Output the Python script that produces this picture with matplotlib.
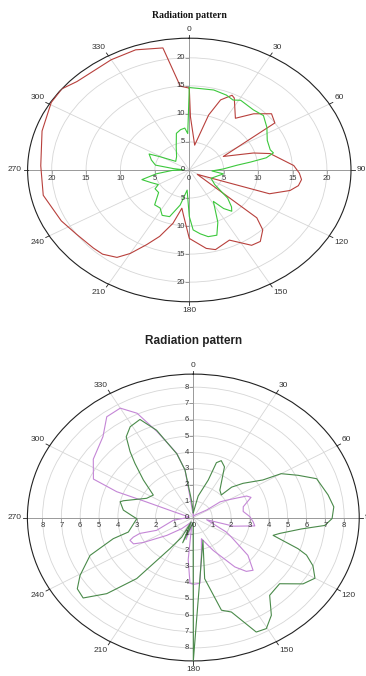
import matplotlib

matplotlib.use("Agg")
import matplotlib.pyplot as plt
import numpy as np

# ---- top panel: radiation pattern, two series (deg, value) ----
top_red_theta = [0, 1, 10, 16, 20, 25, 27, 36, 43, 50, 56, 64, 72, 76, 87, 92, 96, 100,
                 104, 110, 124, 131, 135, 141, 146, 155, 165, 170, 180, 186, 189, 194, 200,
                 205, 210, 214, 220, 225, 235, 244, 258, 272, 288, 301, 308, 314, 330, 340,
                 350, 355, 360]
top_red_r = [14.6, 9.5, 4.5, 10.2, 13.3, 14.7, 14.4, 11.4, 13.7, 15.6, 15.0, 5.5, 9.8, 12.1,
             15.2, 16.0, 16.4, 16.1, 15.1, 12.4, 1.4, 13.0, 15.1, 16.4, 16.2, 13.8, 14.7, 14.2,
             12.2, 8.1, 6.9, 9.8, 12.6, 14.7, 17.2, 18.8, 19.6, 19.7, 20.0, 20.7, 21.7, 21.6,
             22.5, 23.4, 23.5, 22.7, 22.7, 22.8, 22.1, 15.0, 14.6]

top_grn_theta = [0, 6, 14, 22, 27, 31, 41, 48, 56, 65, 73, 76, 79, 81, 83, 88, 93, 98, 105,
                 115, 125, 132, 137, 140, 144, 148, 152, 156, 161, 167, 172, 177, 180, 185,
                 192, 199, 206, 212, 219, 228, 236, 240, 248, 256, 262, 268, 272, 276, 280,
                 288, 296, 299, 308, 322, 335, 344, 350, 355, 358, 360]
top_grn_r = [14.7, 14.6, 14.7, 14.4, 14.0, 14.5, 14.2, 14.5, 13.6, 12.5, 12.3, 12.6, 11.4, 9.0,
             7.0, 4.9, 3.3, 5.0, 4.2, 3.5, 4.5, 7.5, 9.0, 9.6, 8.5, 6.6, 8.0, 10.2, 12.3, 12.2,
             11.5, 10.7, 8.3, 3.6, 6.4, 8.8, 9.0, 8.0, 8.0, 6.0, 6.0, 5.2, 6.0, 7.1, 4.8, 2.5,
             0.8, 2.3, 5.0, 5.8, 6.5, 4.9, 2.5, 3.0, 4.5, 6.8, 7.3, 7.5, 6.5, 14.7]

# ---- bottom panel ----
bot_grn_theta = [0, 11, 19, 20, 23, 28, 40, 47, 47.5, 51.5, 58, 60, 65, 70, 79, 85, 90.5, 94,
                 97, 102, 104.5, 109, 111, 115, 120, 125, 131.6, 139.7, 145.4, 150.4, 154.6,
                 160.8, 165.3, 170.9, 160, 180, 182, 200, 203, 207, 213, 218.7, 224.5, 229.8,
                 234.6, 239.4, 247, 253, 255.5, 268.6, 271, 277, 284, 285.5, 295.5, 303, 311,
                 317, 320.3, 324.3, 329, 334.8, 340, 347.4, 351.4, 355, 360]
bot_grn_r = [0.3, 1.34, 2.43, 3.58, 3.79, 3.52, 2.19, 2.03, 2.76, 3.37, 4.35, 5.38, 6.13, 6.96,
             7.28, 7.48, 7.36, 6.99, 5.77, 4.69, 4.37, 5.87, 6.43, 7.0, 7.45, 7.1, 6.12, 6.26,
             7.29, 7.84, 7.78, 6.14, 5.88, 3.8, 1.49, 8.8, 0.3, 1.65, 0.3, 1.35, 2.28, 4.8,
             6.55, 7.65, 7.55, 6.98, 5.95, 4.44, 3.56, 3.0, 3.18, 3.74, 4.0, 3.85, 2.74, 2.53,
             3.51, 4.54, 5.25, 6.1, 6.5, 6.65, 5.7, 4.0, 2.95, 1.0, 0.3]

bot_mag_theta = [0, 57, 56, 59, 65, 68, 76, 82, 89, 95, 99, 104, 101, 117, 120.7, 128.7, 135.6,
                 139.6, 144, 152.5, 161.7, 169, 175, 180, 182.5, 186, 190, 196, 200, 222, 232,
                 240, 243, 247.4, 249.3, 251, 248, 261, 263.5, 275, 289, 291, 291.3, 294, 304,
                 316, 323.4, 330, 335, 340, 347.4, 351.4, 352, 360]
bot_mag_r = [0.1, 0.85, 1.72, 2.07, 3.12, 3.3, 2.73, 2.67, 3.0, 3.19, 3.3, 2.2, 0.72, 1.96,
             2.35, 3.71, 4.53, 4.34, 3.75, 2.27, 1.37, 2.24, 4.05, 4.1, 4.04, 2.6, 0.5, 1.4,
             0.3, 0.92, 1.78, 3.07, 3.56, 3.64, 3.4, 3.0, 2.1, 1.07, 0.62, 0.2, 1.12, 2.66,
             4.36, 5.8, 6.4, 6.9, 7.7, 7.75, 7.06, 5.6, 4.04, 2.95, 1.29, 0.1]

angle_ticks = list(range(0, 360, 30))
top_rticks = [0, 5, 10, 15, 20]
bot_rticks = [0, 1, 2, 3, 4, 5, 6, 7, 8]

LABEL = "#333333"
AXIS = "#9a9a9a"
GRID = "#d6d6d6"


def draw_panel(ax, rmax, rticks, series, title, title_font, title_y):
    ax.set_theta_zero_location("N")
    ax.set_theta_direction(-1)
    ax.set_aspect("auto")

    for theta, r, color in series:
        ax.plot(np.deg2rad(theta), r, color=color, lw=0.8, zorder=3)

    # main axes through the centre
    for a in (0, 90, 180, 270):
        ax.plot([np.deg2rad(a)] * 2, [0, rmax], color=AXIS, lw=0.7, zorder=2)

    rt = [v for v in rticks if v > 0]
    ax.set_rgrids(rt, labels=[""] * len(rt))
    ax.set_thetagrids(angle_ticks, labels=[""] * len(angle_ticks))
    ax.grid(True, color=GRID, lw=0.6)
    ax.spines["polar"].set_color("#222222")
    ax.spines["polar"].set_linewidth(0.8)

    # angle ticks and labels outside the rim, placed edge-first like the original
    for a in angle_ticks:
        rad = np.deg2rad(a)
        ax.plot([rad, rad], [rmax, rmax * 1.025], color="#222222", lw=0.6,
                clip_on=False, zorder=4)
        s, c = np.sin(rad), np.cos(rad)
        ha = "left" if s > 0.1 else ("right" if s < -0.1 else "center")
        va = "bottom" if c > 0.1 else ("top" if c < -0.1 else "center")
        ax.annotate(str(a), xy=(rad, rmax), xytext=(4 * s, 4 * c), textcoords="offset points",
                    ha=ha, va=va, fontsize=6, color=LABEL, family="Liberation Sans",
                    annotation_clip=False)

    # ticks + labels along the two axes
    n = len(rticks)
    ax.plot([0] * n, rticks, ls="none", marker=0, ms=3, mew=0.6, color=AXIS, zorder=2)
    ax.plot([np.pi] * n, rticks, ls="none", marker=0, ms=3, mew=0.6, color=AXIS, zorder=2)
    ax.plot([np.pi / 2] * n, rticks, ls="none", marker=3, ms=3, mew=0.6, color=AXIS, zorder=2)
    ax.plot([3 * np.pi / 2] * n, rticks, ls="none", marker=3, ms=3, mew=0.6, color=AXIS, zorder=2)
    txt = dict(fontsize=5.5, color=LABEL, family="Liberation Sans", textcoords="offset points")
    for v in rticks:
        ax.annotate(str(v), xy=(0, v), xytext=(-3, 0), ha="right", va="center", **txt)
        ax.annotate(str(v), xy=(np.pi / 2, v), xytext=(0, -3.5), ha="center", va="top", **txt)
        if v > 0:
            ax.annotate(str(v), xy=(np.pi, v), xytext=(-3, 0), ha="right", va="center", **txt)
            ax.annotate(str(v), xy=(3 * np.pi / 2, v), xytext=(0, -3.5), ha="center",
                        va="top", **txt)

    ax.set_rlim(0, rmax)
    pos = ax.get_position()
    ax.figure.text(0.5 * (pos.x0 + pos.x1), title_y, title,
                   ha="center", va="center", **title_font)


fig = plt.figure(figsize=(3.66, 6.76), dpi=100)

ax1 = fig.add_axes([0.0754, 0.5536, 0.8836, 0.3899], projection="polar")
draw_panel(ax1, 23.5, top_rticks,
           [(top_red_theta, top_red_r, "#b8403c"), (top_grn_theta, top_grn_r, "#3cc83c")],
           "Radiation pattern",
           dict(fontsize=7, fontweight="bold", family="Liberation Serif", color="#111111"),
           1 - 15 / 676)

ax2 = fig.add_axes([0.0749, 0.0223, 0.9066, 0.4243], projection="polar")
draw_panel(ax2, 8.8, bot_rticks,
           [(bot_mag_theta, bot_mag_r, "#c486d6"), (bot_grn_theta, bot_grn_r, "#4a8a4a")],
           "Radiation pattern",
           dict(fontsize=8.5, fontweight="bold", family="Liberation Sans", color="#222222"),
           1 - 341 / 676)

fig.savefig("out.png", dpi=100)
